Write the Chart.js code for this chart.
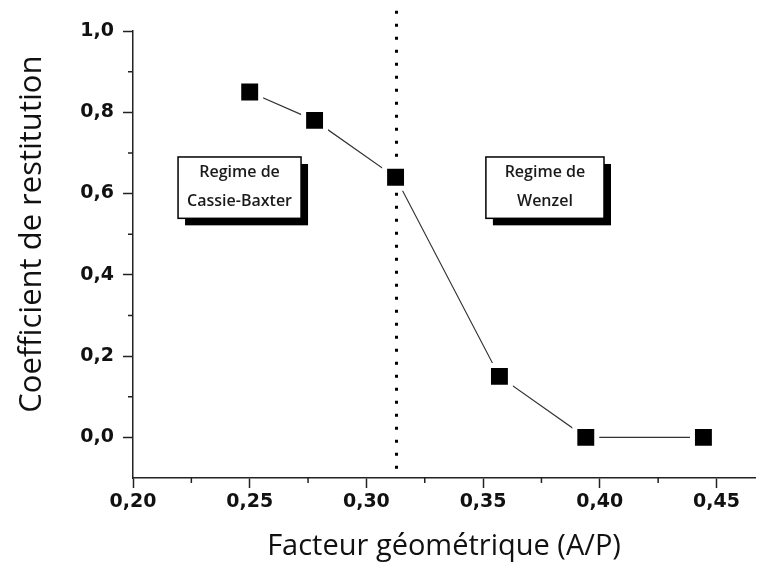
<!DOCTYPE html>
<html>
<head>
<meta charset="utf-8">
<script src="https://cdn.jsdelivr.net/npm/chart.js@4.4.0/dist/chart.umd.min.js"></script>
<style>
html, body { margin: 0; padding: 0; background: #fff; }
#wrap { width: 766px; height: 569px; }
</style>
</head>
<body>
<div id="wrap"><canvas id="myChart" width="766" height="569"></canvas></div>
<script>
// values
var facteur = [0.25, 0.2778, 0.3125, 0.357, 0.394, 0.4444];
var restitution = [0.85, 0.78, 0.64, 0.15, 0.0, 0.0];
var xTicks = [0.20, 0.25, 0.30, 0.35, 0.40, 0.45];
var yTicks = [0.0, 0.2, 0.4, 0.6, 0.8, 1.0];
var xMinor = [0.225, 0.275, 0.325, 0.375, 0.425];
var yMinor = [0.1, 0.3, 0.5, 0.7, 0.9];
var transition = 0.3125;
var regimes = [['Regime de', 'Cassie-Baxter'], ['Regime de', 'Wenzel']];
var yTitle = 'Coefficient de restitution';

// where the two label boxes sit (data units)
var boxPos = [
    { x0: 0.2193, x1: 0.2720, y0: 0.690, y1: 0.539 },
    { x0: 0.3512, x1: 0.4018, y0: 0.690, y1: 0.539 }
];

var decor = {
    id: 'decor',
    beforeDatasetsDraw: function (chart) {
        var ctx = chart.ctx, xs = chart.scales.x, ys = chart.scales.y, area = chart.chartArea;
        ctx.save();
        ctx.strokeStyle = '#222';
        ctx.lineWidth = 1.5;
        ctx.beginPath();
        xMinor.forEach(function (v) {
            var px = xs.getPixelForValue(v);
            ctx.moveTo(px, area.bottom);
            ctx.lineTo(px, area.bottom + 5);
        });
        yMinor.forEach(function (v) {
            var py = ys.getPixelForValue(v);
            ctx.moveTo(area.left, py);
            ctx.lineTo(area.left - 5, py);
        });
        ctx.stroke();

        // dotted transition line
        var tx = Math.round(xs.getPixelForValue(transition)) + 0.5;
        ctx.strokeStyle = '#000';
        ctx.lineWidth = 3;
        ctx.setLineDash([3, 10]);
        ctx.beginPath();
        ctx.moveTo(tx, ys.getPixelForValue(1.05));
        ctx.lineTo(tx, area.bottom);
        ctx.stroke();
        ctx.restore();

        // y axis title, sits a bit above the middle of the axis
        ctx.save();
        ctx.translate(32, ys.getPixelForValue(0.5));
        ctx.rotate(-Math.PI / 2);
        ctx.fillStyle = '#111';
        ctx.font = '31px "Open Sans"';
        ctx.textAlign = 'center';
        ctx.textBaseline = 'middle';
        ctx.fillText(yTitle, 0, 0);
        ctx.restore();
    },
    afterDraw: function (chart) {
        var ctx = chart.ctx, xs = chart.scales.x, ys = chart.scales.y;
        ctx.save();
        boxPos.forEach(function (b, i) {
            var l = xs.getPixelForValue(b.x0), r = xs.getPixelForValue(b.x1);
            var t = ys.getPixelForValue(b.y0), btm = ys.getPixelForValue(b.y1);
            var w = r - l, h = btm - t;
            ctx.fillStyle = '#000';
            ctx.fillRect(l + 7, t + 7, w, h);
            ctx.fillStyle = '#fff';
            ctx.fillRect(l, t, w, h);
            ctx.strokeStyle = '#000';
            ctx.lineWidth = 1.5;
            ctx.strokeRect(l, t, w, h);
            ctx.fillStyle = '#1a1a1a';
            ctx.font = '600 16px "Open Sans"';
            ctx.textAlign = 'center';
            ctx.textBaseline = 'middle';
            ctx.fillText(regimes[i][0], l + w / 2, t + h * 0.26);
            ctx.fillText(regimes[i][1], l + w / 2, t + h * 0.72);
        });
        ctx.restore();
    }
};

var ctx = document.getElementById('myChart');
var myChart = new Chart(ctx, {
    type: 'scatter',
    data: {
        datasets: [{
            data: facteur.map(function (x, i) { return { x: x, y: restitution[i] }; }),
            showLine: true,
            borderColor: '#333',
            borderWidth: 1.2,
            pointStyle: 'rect',
            pointRadius: 15.5,
            pointBackgroundColor: '#000',
            pointBorderColor: '#fff',
            pointBorderWidth: 5,
            clip: false
        }]
    },
    options: {
        responsive: false,
        animation: false,
        events: [],
        layout: { autoPadding: false, padding: { left: 0, right: 11, top: 31, bottom: 0 } },
        plugins: {
            legend: { display: false },
            tooltip: { enabled: false }
        },
        scales: {
            x: {
                type: 'linear',
                min: 0.2,
                max: 0.4665,
                afterBuildTicks: function (s) { s.ticks = xTicks.map(function (v) { return { value: v }; }); },
                afterFit: function (s) { s.height = 91; s.paddingLeft = 0; s.paddingRight = 0; },
                grid: { drawOnChartArea: false, tickLength: 10, tickColor: '#222', tickWidth: 1.5 },
                border: { color: '#222', width: 1.5 },
                ticks: {
                    color: '#111',
                    font: { family: 'DejaVu Sans', weight: 'bold', size: 19 },
                    padding: 3,
                    maxRotation: 0,
                    autoSkip: false,
                    callback: function (v) { return v.toFixed(2).replace('.', ','); }
                },
                title: {
                    display: true,
                    text: 'Facteur géométrique (A/P)',
                    color: '#111',
                    font: { family: 'Open Sans', size: 29 },
                    padding: { top: 0, bottom: 5 }
                }
            },
            y: {
                min: -0.1,
                max: 1.0,
                afterBuildTicks: function (s) { s.ticks = yTicks.map(function (v) { return { value: v }; }); },
                afterFit: function (s) { s.width = 133; s.paddingTop = 0; s.paddingBottom = 0; },
                grid: { drawOnChartArea: false, tickLength: 10, tickColor: '#222', tickWidth: 1.5 },
                border: { color: '#222', width: 1.5 },
                ticks: {
                    color: '#111',
                    font: { family: 'DejaVu Sans', weight: 'bold', size: 19 },
                    padding: 9,
                    callback: function (v) { return v.toFixed(1).replace('.', ','); }
                }
            }
        }
    },
    plugins: [decor]
});
</script>
</body>
</html>
